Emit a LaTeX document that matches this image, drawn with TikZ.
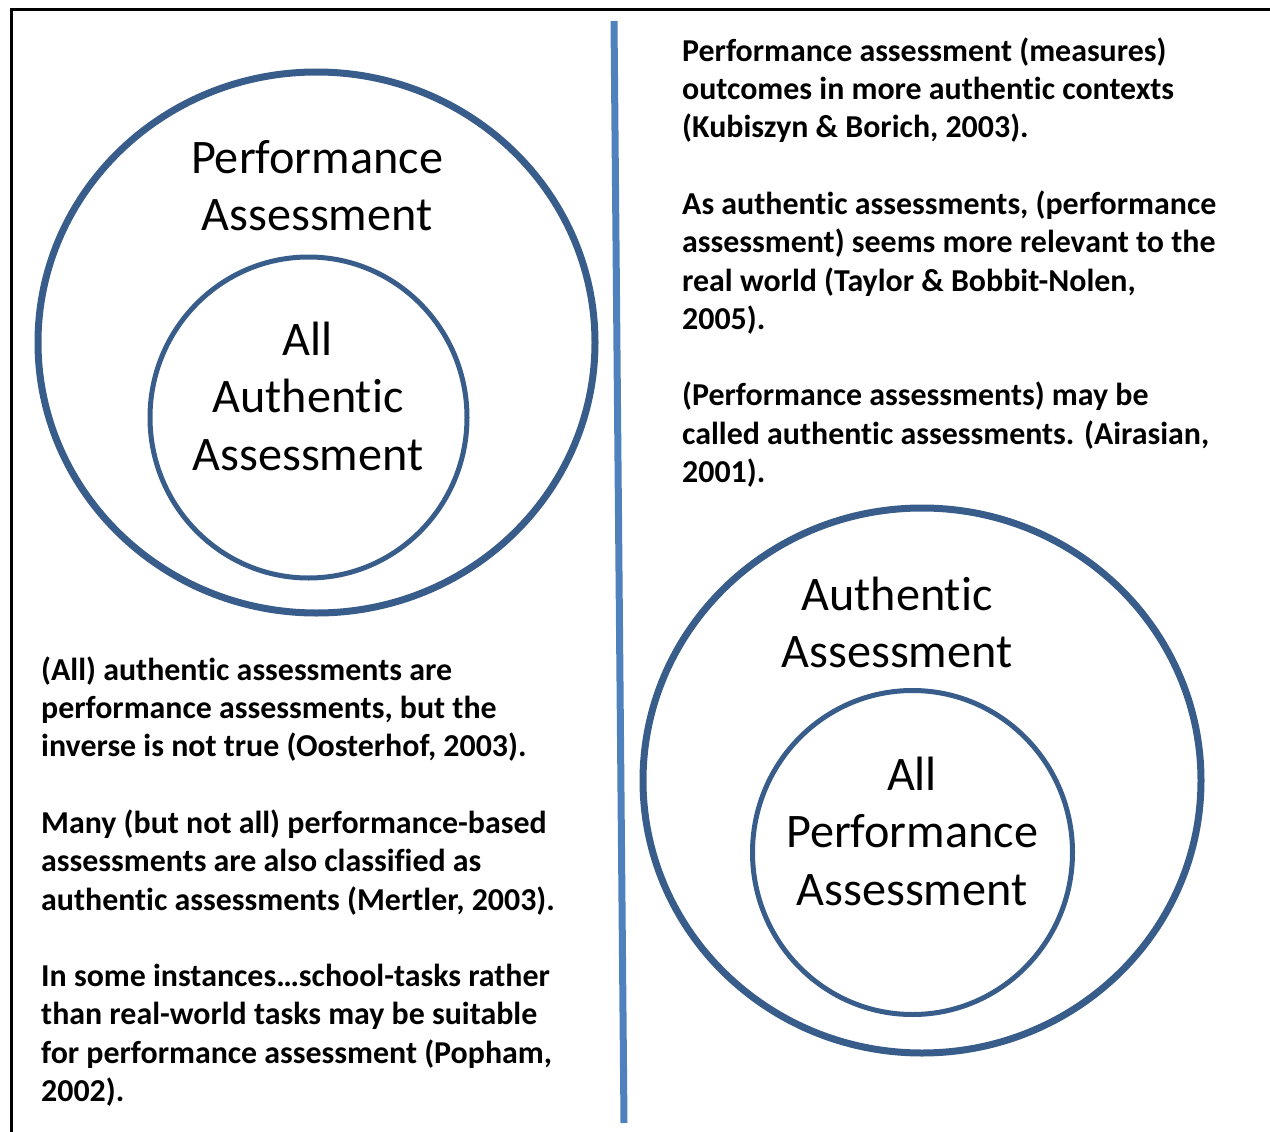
\documentclass[tikz,border=0pt]{standalone}
\usepackage{fontspec}
\setmainfont{Carlito}[Ligatures={NoCommon,NoContextual},RawFeature={-liga;-clig;-dlig}]
\definecolor{ringblue}{HTML}{385D8A}
\definecolor{lineblue}{HTML}{4F81BD}
\begin{document}
\begin{tikzpicture}[x=1pt,y=-1pt,
  frame/.style={draw=black, line width=3pt},
  divider/.style={draw=lineblue, line width=7pt},
  outerring/.style={draw=ringblue, line width=7pt},
  innerring/.style={draw=ringblue, line width=5pt},
  ringtext/.style={font=\fontsize{48.2}{57.5}\selectfont, align=center, inner sep=0pt, anchor=north},
  para/.style={font=\fontsize{31.9}{38.3}\selectfont\bfseries, align=left, inner sep=0pt, anchor=north west}]
\useasboundingbox (0,0) rectangle (1270,1132);
% frame
\draw[frame] (1270,10) -- (11,10) -- (11,1132);
% divider
\coordinate (divtop) at (614,21);
\coordinate (divbot) at (624,1123);
\draw[divider] (divtop) -- (divbot);
% rings
\draw[outerring] (316.5,342.5) ellipse [x radius=278.5pt, y radius=270.5pt];
\draw[innerring] (308.5,417.5) ellipse [x radius=158.5pt, y radius=160.5pt];
\draw[outerring] (922,780.5) ellipse [x radius=279pt, y radius=272.5pt];
\draw[innerring] (912.5,852.5) ellipse [x radius=160pt, y radius=162pt];
% ring texts (first baseline - 0.7*57.5)
\node[ringtext] (lo) at (317,173-40.25) {\strut Performance\\Assessment};
\node[ringtext] (li) at (308,355-40.25) {\strut All\\Authentic\\Assessment};
\node[ringtext] (ro) at (897,610-40.25) {\strut Authentic\\Assessment};
\node[ringtext] (ri) at (912,790-40.25) {\strut All\\Performance\\Assessment};
% paragraphs (first baseline - 0.7*38.3)
\node[para] (p1) at (41,680-26.81) {\strut(All) authentic assessments are\\performance assessments, but the\\inverse is not true (Oosterhof, 2003).};
\node[para] (p2) at (41,833.2-26.81) {\strut Many (but not all) performance-based\\assessments are also classified as\\authentic assessments (Mertler, 2003).};
\node[para] (p3) at (41,986.4-26.81) {\strut In some instances…school-tasks rather\\than real-world tasks may be suitable\\for performance assessment (Popham,\\2002).};
\node[para] (q1) at (682,61-26.81) {\strut Performance assessment (measures)\\outcomes in more authentic contexts\\(Kubiszyn \& Borich, 2003).};
\node[para] (q2) at (682,214.2-26.81) {\strut As authentic assessments, (performance\\assessment) seems more relevant to the\\real world (Taylor \& Bobbit-Nolen,\\2005).};
\node[para] (q3) at (682,405.7-26.81) {\strut(Performance assessments) may be\\called authentic assessments. (Airasian,\\2001).};
\end{tikzpicture}
\end{document}
